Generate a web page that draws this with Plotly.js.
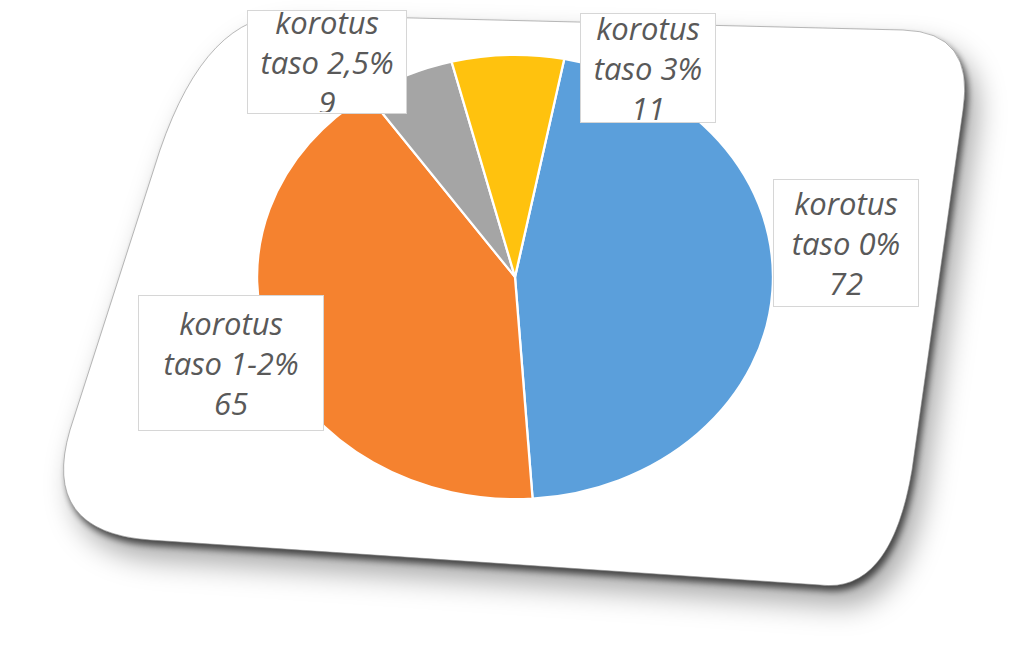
<!DOCTYPE html>
<html>
<head>
<meta charset="utf-8">
<script src="https://cdn.plot.ly/plotly-3.0.1.min.js"></script>
<style>
  body { margin: 0; background: #ffffff; }
  #wrap { position: relative; width: 1024px; height: 669px; overflow: hidden; }
  .layer { position: absolute; left: 0; top: 0; width: 1024px; height: 669px; }
  #card { filter: drop-shadow(3px 5px 3px rgba(0,0,0,0.6)) drop-shadow(10px 16px 14px rgba(0,0,0,0.35)); }
  /* the reference is photographed at an angle, so the pie is an ellipse */
  #pie { transform: scaleX(1.162); transform-origin: 515px 277px; }
  #labels { pointer-events: none; }
</style>
</head>
<body>
<div id="wrap">
  <div id="card" class="layer"></div>
  <div id="pie" class="layer"></div>
  <div id="labels" class="layer"></div>
</div>
<script>
var categories = ["korotus taso 0%", "korotus taso 1-2%", "korotus taso 2,5%", "korotus taso 3%"];
var counts = [72, 65, 9, 11];
var sliceColors = ["#5b9fdb", "#f5822f", "#a5a5a5", "#ffc20e"];

// label boxes, pixel centre and size (same order as categories)
var boxX = [846, 231, 327, 648];
var boxY = [243, 363, 62, 68];
var boxW = [142, 182, 156, 132];
var boxH = [124, 132, 100, 106];

var W = 1024, H = 669;
var pieCx = 515, pieCy = 277, pieR = 222;
var config = { displayModeBar: false, staticPlot: true };

// card behind the chart
Plotly.newPlot("card", [], {
    width: W, height: H,
    margin: { l: 0, r: 0, t: 0, b: 0 },
    paper_bgcolor: "rgba(0,0,0,0)",
    plot_bgcolor: "rgba(0,0,0,0)",
    xaxis: { range: [0, W], visible: false, fixedrange: true },
    yaxis: { range: [H, 0], visible: false, fixedrange: true },
    shapes: [{
        type: "path",
        xref: "x", yref: "y",
        path: "M 290,15 L 903,30 Q 975,32 963,110 L 912,470 Q 891,594 820,585 " +
              "L 150,540 Q 40,532 70,430 L 160,150 Q 207,13 290,15 Z",
        fillcolor: "#ffffff",
        line: { color: "rgba(140,140,140,0.6)", width: 1 }
    }]
}, config);

// the pie itself
Plotly.newPlot("pie", [{
    type: "pie",
    labels: categories,
    values: counts,
    sort: false,
    direction: "clockwise",
    rotation: 11,
    textinfo: "none",
    marker: { colors: sliceColors, line: { color: "#ffffff", width: 2 } },
    domain: {
        x: [(pieCx - pieR) / W, (pieCx + pieR) / W],
        y: [(H - pieCy - pieR) / H, (H - pieCy + pieR) / H]
    }
}], {
    width: W, height: H,
    margin: { l: 0, r: 0, t: 0, b: 0 },
    showlegend: false,
    paper_bgcolor: "rgba(0,0,0,0)"
}, config);

// data labels in white boxes
var annotations = [];
for (var i = 0; i < categories.length; i++) {
    var words = categories[i].split(" ");
    annotations.push({
        xref: "paper", yref: "paper",
        x: boxX[i] / W, y: 1 - boxY[i] / H,
        xanchor: "center", yanchor: "middle",
        text: words[0] + "<br>" + words.slice(1).join(" ") + "<br>" + counts[i],
        showarrow: false,
        align: "center",
        width: boxW[i], height: boxH[i],
        bgcolor: "#ffffff",
        bordercolor: "#d6d6d6",
        borderwidth: 1,
        font: { family: "'Open Sans', sans-serif", size: 31, color: "#595959", style: "italic" }
    });
}
Plotly.newPlot("labels", [], {
    width: W, height: H,
    margin: { l: 0, r: 0, t: 0, b: 0 },
    paper_bgcolor: "rgba(0,0,0,0)",
    plot_bgcolor: "rgba(0,0,0,0)",
    xaxis: { visible: false },
    yaxis: { visible: false },
    annotations: annotations
}, config);
</script>
</body>
</html>
